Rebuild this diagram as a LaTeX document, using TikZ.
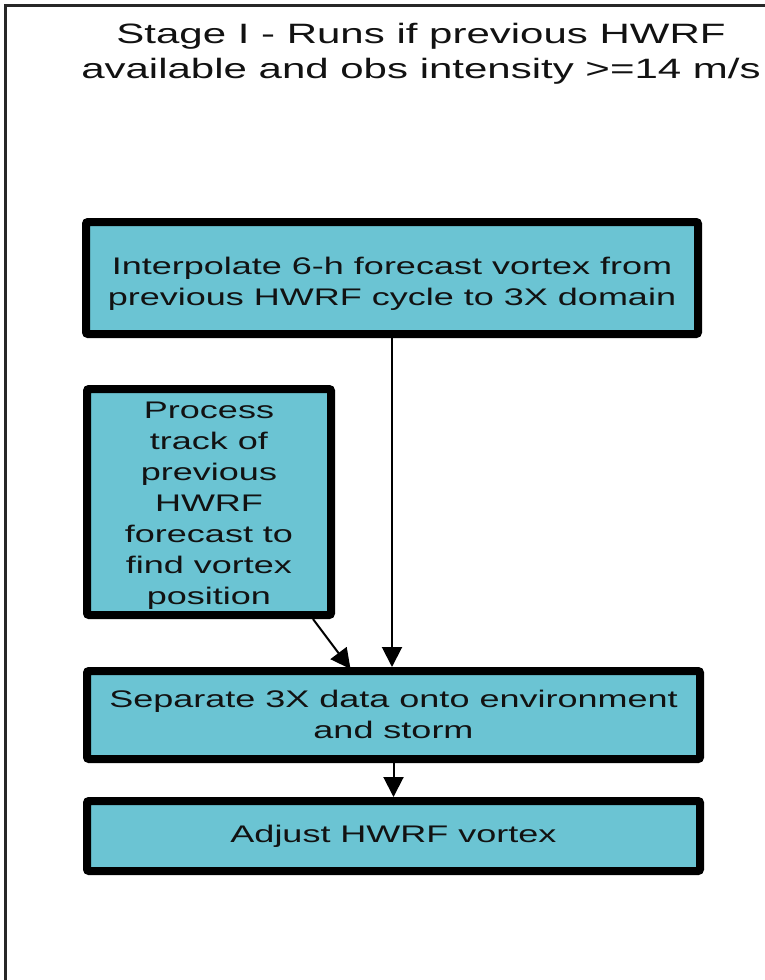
\documentclass[tikz,border=0pt]{standalone}
\usepackage{fontspec}
\newfontfamily\widesans[FakeStretch=1.5]{Liberation Sans}
\usetikzlibrary{arrows.meta}
\definecolor{boxcyan}{RGB}{107,196,211}
\definecolor{ink}{RGB}{18,18,18}
\definecolor{framegray}{RGB}{40,40,40}
\newcommand{\lowertext}[2]{\raisebox{-#1}[\height][\depth]{\begin{tabular}{@{}c@{}}#2\end{tabular}}}
\begin{document}
\begin{tikzpicture}[x=1pt,y=-1pt,
  stagebox/.style={draw=black, line width=8pt, fill=boxcyan, rounded corners=2pt,
    align=center, font=\widesans\fontsize{24}{31}\selectfont, text=ink, inner sep=0pt},
  titletext/.style={align=center, font=\widesans\fontsize{28}{35.5}\selectfont, text=ink, inner sep=0pt},
  arr/.style={draw=black, line width=2pt, -{Triangle[length=20pt,width=20pt]}},
  frame/.style={draw=framegray, line width=2.5pt}]
\useasboundingbox (0,0) rectangle (765,980);
\draw[frame] (5.5,985) -- (5.5,5.5) -- (770,5.5);
\node[titletext] (title) at (421,54) {Stage I - Runs if previous HWRF\\available and obs intensity >=14 m/s};
\node[stagebox, minimum width=612pt, minimum height=112pt] (b1) at (392,278)
  {\lowertext{6pt}{Interpolate 6-h forecast vortex from\\previous HWRF cycle to 3X domain}};
\node[stagebox, minimum width=244pt, minimum height=226pt] (b2) at (209,502)
  {\lowertext{3pt}{Process\\track of\\previous\\HWRF\\forecast to\\find vortex\\position}};
\node[stagebox, minimum width=613pt, minimum height=88pt] (b3) at (393.5,715)
  {\lowertext{1.5pt}{Separate 3X data onto environment\\and storm}};
\node[stagebox, minimum width=613pt, minimum height=70pt] (b4) at (393.5,836)
  {Adjust HWRF vortex};
\draw[arr] (b1.south) -- (b1.south |- b3.north);
\draw[arr] ([xshift=-22pt]b2.south east) -- ([xshift=-43pt,yshift=-2pt]b3.north);
\draw[arr] (b3.south) -- (b4.north);
\end{tikzpicture}
\end{document}
